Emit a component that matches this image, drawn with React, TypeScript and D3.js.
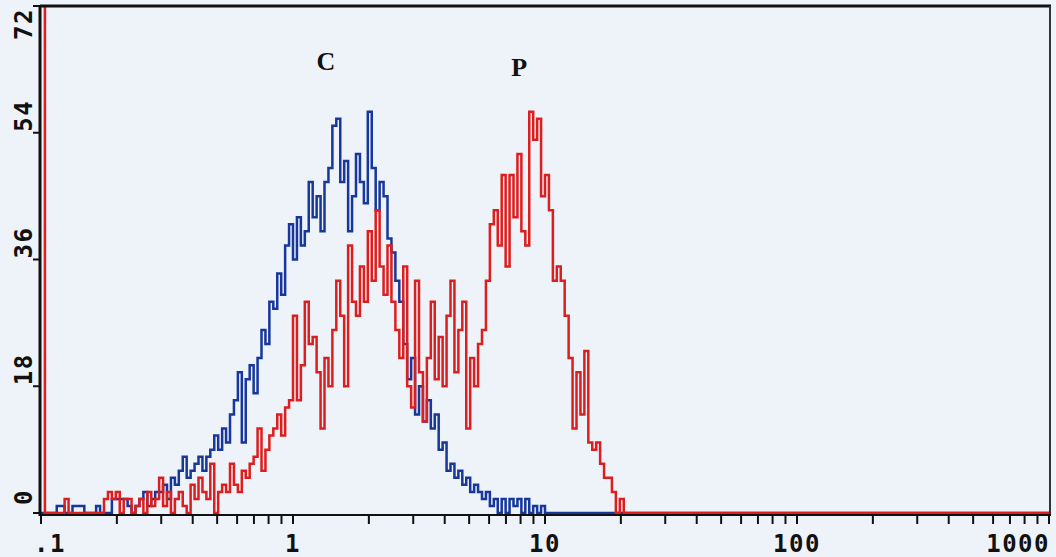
import React from "react";
import * as d3 from "d3";

// ---- data (counts per channel, 64 channels per decade, channel 0 starts at 0.1) ----
const blueCounts = [
  0, 0, 0, 0, 1, 1, 0, 0, 1, 1,
  1, 0, 0, 0, 1, 0, 0, 0, 2, 2,
  2, 2, 1, 0, 1, 2, 3, 1, 2, 3,
  3, 4, 2, 5, 4, 6, 8, 5, 6, 7,
  8, 6, 8, 9, 11, 9, 12, 10, 14, 16,
  20, 10, 19, 21, 17, 22, 26, 24, 30, 29,
  34, 31, 38, 41, 36, 42, 38, 40, 47, 42,
  45, 40, 47, 49, 55, 56, 47, 50, 40, 45,
  51, 47, 44, 57, 49, 43, 47, 45, 39, 37,
  33, 30, 24, 19, 22, 14, 18, 13, 16, 12,
  14, 9, 10, 6, 7, 5, 6, 4, 5, 3,
  4, 3, 2, 3, 1, 2, 0, 2, 0, 2,
  1, 2, 0, 2, 0, 1, 0, 1,
];

const redCounts = [
  80, 0, 0, 0, 0, 0, 2, 0, 0, 0,
  0, 0, 0, 0, 0, 0, 2, 3, 2, 3,
  0, 2, 2, 0, 1, 2, 0, 3, 1, 2,
  5, 1, 3, 0, 2, 3, 1, 0, 4, 2,
  5, 3, 2, 7, 0, 3, 4, 3, 7, 4,
  3, 6, 5, 7, 8, 12, 6, 9, 11, 12,
  14, 11, 15, 16, 28, 16, 21, 30, 24, 25,
  20, 12, 22, 18, 26, 33, 28, 18, 38, 30,
  28, 35, 30, 40, 33, 43, 35, 31, 38, 30,
  26, 22, 35, 18, 15, 33, 20, 13, 22, 30,
  19, 25, 18, 28, 33, 20, 26, 30, 12, 22,
  18, 24, 26, 33, 41, 43, 38, 48, 35, 48,
  42, 51, 40, 38, 57, 53, 56, 45, 48, 43,
  33, 35, 33, 28, 22, 12, 20, 14, 23, 10,
  9, 10, 7, 5, 5, 3, 0, 2, 0,
];

const xTickValues = [0.1, 1, 10, 100, 1000];
const xTickLabels = [".1", "1", "10", "100", "1000"];
const yTickValues = [0, 18, 36, 54, 72];
const yTickLabels = ["0", "18", "36", "54", "72"];
const peakLabels = [
  { text: "C", at: 1.35 },
  { text: "P", at: 7.9 },
];

const TOTAL_CHANNELS = 256;
const CHANNELS_PER_DECADE = 64;
const X_MIN = 0.1;
const X_MAX = 1000;
const Y_MAX = 72;

// ---- layout ----
const W = 1056;
const H = 557;
const L = 41;
const R = 1049;
const T = 6;
const B = 513;
const BG = "#eef2f9";
const BLUE = "#17379a";
const RED = "#dc1e1e";
const FONT = "'DejaVu Sans Mono', 'Liberation Mono', monospace";

const edge = (i: number) => X_MIN * Math.pow(10, i / CHANNELS_PER_DECADE);

function toPoints(counts: number[]): [number, number][] {
  const pts: [number, number][] = [];
  for (let i = 0; i < TOTAL_CHANNELS; i++) {
    pts.push([edge(i), i < counts.length ? counts[i] : 0]);
  }
  pts.push([edge(TOTAL_CHANNELS), 0]);
  return pts;
}

export default function App() {
  const x = d3.scaleLog().domain([X_MIN, X_MAX]).range([L, R]);
  const y = d3.scaleLinear().domain([0, Y_MAX]).range([B, T]);
  const line = d3
    .line<[number, number]>()
    .x((d) => x(d[0]))
    .y((d) => y(d[1]))
    .curve(d3.curveStepAfter);

  const bluePath = line(toPoints(blueCounts)) || "";
  const redPath = line(toPoints(redCounts)) || "";

  const minorTicks: number[] = [];
  for (let p = 0; p < 4; p++) {
    const base = X_MIN * Math.pow(10, p);
    for (let k = 2; k <= 9; k++) minorTicks.push(base * k);
  }

  return (
    <div style={{ position: "fixed", left: 0, top: 0, width: W, height: H, background: BG }}>
      <svg width={W} height={H} style={{ display: "block" }}>
        <rect x={0} y={0} width={W} height={H} fill={BG} />
        <defs>
          <clipPath id="plot">
            <rect x={L} y={T} width={R - L} height={B - T + 2} />
          </clipPath>
        </defs>
        <g clipPath="url(#plot)" fill="none" strokeWidth={2.5} strokeLinejoin="miter">
          <path d={bluePath} stroke={BLUE} />
          <path d={redPath} stroke={RED} />
        </g>
        {/* frame */}
        <line x1={L - 1} x2={R + 2} y1={T} y2={T} stroke="#111" strokeWidth={3} />
        <line x1={R + 1} x2={R + 1} y1={T} y2={B + 2} stroke="#333" strokeWidth={2} />
        <line x1={L - 1} x2={L - 1} y1={T - 1} y2={B + 3} stroke="#111" strokeWidth={3} />
        <line x1={L - 2} x2={R + 2} y1={B + 2} y2={B + 2} stroke="#111" strokeWidth={2} />
        {/* x ticks */}
        {xTickValues.concat(minorTicks).map((v, i) => (
          <line key={"xt" + i} x1={x(v)} x2={x(v)} y1={B + 2} y2={B + 11} stroke="#111" strokeWidth={2} />
        ))}
        {xTickValues.map((v, i) => {
          const last = i === xTickValues.length - 1;
          const first = i === 0;
          return (
            <text
              key={"xl" + i}
              x={first ? x(v) - 7 : last ? x(v) + 1 : x(v)}
              y={552}
              textAnchor={first ? "start" : last ? "end" : "middle"}
              fontFamily={FONT}
              fontWeight="bold"
              fontSize={24}
              letterSpacing={1.5}
              fill="#111"
            >
              {xTickLabels[i]}
            </text>
          );
        })}
        {/* y ticks */}
        {yTickValues.map((v, i) => (
          <line key={"yt" + i} x1={L - 8} x2={L} y1={y(v)} y2={y(v)} stroke="#111" strokeWidth={2} />
        ))}
        {yTickValues.map((v, i) => {
          const top = v === Y_MAX;
          const zero = v === 0;
          const yy = top ? y(v) + 2 : zero ? y(v) - 8 : y(v) - 1;
          return (
            <text
              key={"yl" + i}
              transform={`translate(32,${yy}) rotate(-90)`}
              textAnchor={top ? "end" : "start"}
              fontFamily={FONT}
              fontWeight="bold"
              fontSize={24}
              letterSpacing={1.5}
              fill="#111"
            >
              {yTickLabels[i]}
            </text>
          );
        })}
        {/* peak labels */}
        {peakLabels.map((p, i) => (
          <text
            key={"pk" + i}
            x={x(p.at)}
            y={i === 0 ? 70 : 76}
            textAnchor="middle"
            fontFamily="'Liberation Serif', 'Times New Roman', serif"
            fontWeight="bold"
            fontSize={26}
            fill="#111"
          >
            {p.text}
          </text>
        ))}
      </svg>
    </div>
  );
}
